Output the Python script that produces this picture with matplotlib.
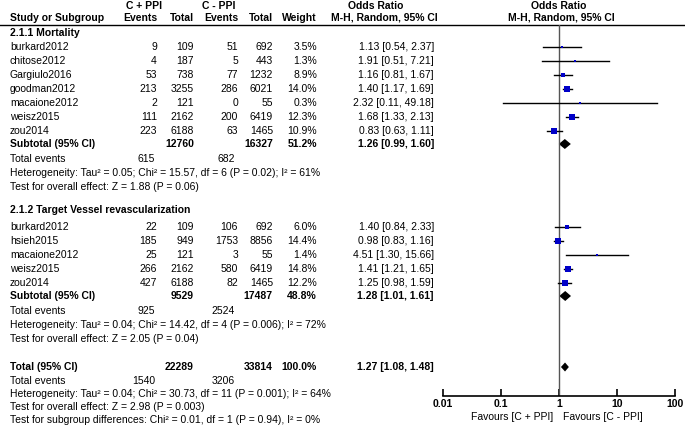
import matplotlib
matplotlib.use('Agg')
import matplotlib.pyplot as plt
import numpy as np
from matplotlib.ticker import NullLocator

plt.rcParams['font.family'] = ['Liberation Sans', 'DejaVu Sans']

# 2.1.1 Mortality
names1 = ['burkard2012', 'chitose2012', 'Gargiulo2016', 'goodman2012', 'macaione2012', 'weisz2015', 'zou2014']
ev_ppi1 = [9, 4, 53, 213, 2, 111, 223]
tot_ppi1 = [109, 187, 738, 3255, 121, 2162, 6188]
ev_no1 = [51, 5, 77, 286, 0, 200, 63]
tot_no1 = [692, 443, 1232, 6021, 55, 6419, 1465]
weight1 = [3.5, 1.3, 8.9, 14.0, 0.3, 12.3, 10.9]
or1 = [1.13, 1.91, 1.16, 1.40, 2.32, 1.68, 0.83]
lo1 = [0.54, 0.51, 0.81, 1.17, 0.11, 1.33, 0.63]
hi1 = [2.37, 7.21, 1.67, 1.69, 49.18, 2.13, 1.11]
sub1 = [1.26, 0.99, 1.60]
subtot1 = ['12760', '16327', '51.2%']
events1 = ['615', '682']
het1 = 'Heterogeneity: Tau\u00b2 = 0.05; Chi\u00b2 = 15.57, df = 6 (P = 0.02); I\u00b2 = 61%'
test1 = 'Test for overall effect: Z = 1.88 (P = 0.06)'

# 2.1.2 Target Vessel revascularization
names2 = ['burkard2012', 'hsieh2015', 'macaione2012', 'weisz2015', 'zou2014']
ev_ppi2 = [22, 185, 25, 266, 427]
tot_ppi2 = [109, 949, 121, 2162, 6188]
ev_no2 = [106, 1753, 3, 580, 82]
tot_no2 = [692, 8856, 55, 6419, 1465]
weight2 = [6.0, 14.4, 1.4, 14.8, 12.2]
or2 = [1.40, 0.98, 4.51, 1.41, 1.25]
lo2 = [0.84, 0.83, 1.30, 1.21, 0.98]
hi2 = [2.33, 1.16, 15.66, 1.65, 1.59]
sub2 = [1.28, 1.01, 1.61]
subtot2 = ['9529', '17487', '48.8%']
events2 = ['925', '2524']
het2 = 'Heterogeneity: Tau\u00b2 = 0.04; Chi\u00b2 = 14.42, df = 4 (P = 0.006); I\u00b2 = 72%'
test2 = 'Test for overall effect: Z = 2.05 (P = 0.04)'

# overall
total = [1.27, 1.08, 1.48]
total_n = ['22289', '33814', '100.0%']
events_all = ['1540', '3206']
het_all = 'Heterogeneity: Tau\u00b2 = 0.04; Chi\u00b2 = 30.73, df = 11 (P = 0.001); I\u00b2 = 64%'
test_all = 'Test for overall effect: Z = 2.98 (P = 0.003)'
test_sub = 'Test for subgroup differences: Chi\u00b2 = 0.01, df = 1 (P = 0.94), I\u00b2 = 0%'

ticks = [0.01, 0.1, 1, 10, 100]
tick_labels = ['0.01', '0.1', '1', '10', '100']

fs = 7.5
blue = '#0000C8'

fig = plt.figure(figsize=(6.85, 4.32), dpi=100)
ax = fig.add_axes([0, 0, 1, 1])
ax.set_xlim(0, 685)
ax.set_ylim(432, 0)
ax.axis('off')

# forest panel, y in the same pixel units as the text panel
top, bottom = 25, 396
fa = fig.add_axes([443 / 685, (432 - bottom) / 432, 232 / 685, (bottom - top) / 432])
fa.set_xscale('log')
fa.set_xlim(0.01, 100)
fa.set_ylim(bottom, top)
fa.patch.set_alpha(0)
for s in ['top', 'right', 'left']:
    fa.spines[s].set_visible(False)
fa.spines['bottom'].set_linewidth(1.2)
fa.set_yticks([])
fa.set_xticks(ticks)
fa.set_xticklabels(tick_labels, fontsize=fs, fontweight='bold')
fa.xaxis.set_minor_locator(NullLocator())
fa.tick_params(axis='x', direction='in', length=5, width=1.2, pad=2)
fa.axvline(1, color='#555555', lw=1)

ax.plot([0, 685], [top, top], color='black', lw=1)

cols = [157, 194, 238, 273, 317]
or_x = 434

def t(x, y, s, ha='left', bold=False):
    ax.text(x, y, s, ha=ha, va='center', fontsize=fs,
            fontweight='bold' if bold else 'normal')

# headers
t(144, 6, 'C + PPI', 'center', True)
t(219, 6, 'C - PPI', 'center', True)
t(376, 6, 'Odds Ratio', 'center', True)
t(559, 6, 'Odds Ratio', 'center', True)
t(10, 18, 'Study or Subgroup', bold=True)
for x, s in zip(cols, ['Events', 'Total', 'Events', 'Total', 'Weight']):
    t(x, 18, s, 'right', True)
t(384, 18, 'M-H, Random, 95% CI', 'center', True)
t(561, 18, 'M-H, Random, 95% CI', 'center', True)


def diamond(v, y, h):
    fa.fill([v[1], v[0], v[2], v[0]], [y, y - h / 2, y, y + h / 2],
            color='black', lw=0)


def group(title, y0, ys, names, a, b, c, d, w, est, lo, hi, sub, subtot, events, het, test):
    t(10, y0, title, bold=True)
    for i, y in enumerate(ys):
        t(10, y, names[i])
        for x, v in zip(cols, [a[i], b[i], c[i], d[i]]):
            t(x, y, str(v), 'right')
        t(cols[4], y, '%.1f%%' % w[i], 'right')
        t(or_x, y, '%.2f [%.2f, %.2f]' % (est[i], lo[i], hi[i]), 'right')
        fa.plot([lo[i], hi[i]], [y, y], color='black', lw=1)
        side = max(2.0, 1.6 * np.sqrt(w[i]))
        fa.plot(est[i], y, 's', ms=side * 0.72, color=blue, mec=blue, mew=0)
    ys_sub = ys[-1] + 13
    t(10, ys_sub, 'Subtotal (95% CI)', bold=True)
    for x, v in zip(cols[1::2] + [cols[4]], subtot):
        t(x, ys_sub, v, 'right', True)
    t(or_x, ys_sub, '%.2f [%.2f, %.2f]' % tuple(sub), 'right', True)
    diamond(sub, ys_sub, 10)
    t(10, ys_sub + 15, 'Total events')
    t(155, ys_sub + 15, events[0], 'right')
    t(235, ys_sub + 15, events[1], 'right')
    t(10, ys_sub + 29, het)
    t(10, ys_sub + 42.5, test)


group('2.1.1 Mortality', 33, 47 + 14 * np.arange(7), names1, ev_ppi1, tot_ppi1,
      ev_no1, tot_no1, weight1, or1, lo1, hi1, sub1, subtot1, events1, het1, test1)
group('2.1.2 Target Vessel revascularization', 210, 227 + 14 * np.arange(5), names2,
      ev_ppi2, tot_ppi2, ev_no2, tot_no2, weight2, or2, lo2, hi2, sub2, subtot2,
      events2, het2, test2)

yt = 367
t(10, yt, 'Total (95% CI)', bold=True)
for x, v in zip(cols[1::2] + [cols[4]], total_n):
    t(x, yt, v, 'right', True)
t(or_x, yt, '%.2f [%.2f, %.2f]' % tuple(total), 'right', True)
diamond(total, yt, 9)
t(10, yt + 14, 'Total events')
t(155, yt + 14, events_all[0], 'right')
t(235, yt + 14, events_all[1], 'right')
t(10, yt + 27, het_all)
t(10, yt + 40, test_all)
t(10, yt + 53, test_sub)

t(553, 417, 'Favours [C + PPI]', 'right')
t(563, 417, 'Favours [C - PPI]')

plt.savefig('out.png', dpi=100)
